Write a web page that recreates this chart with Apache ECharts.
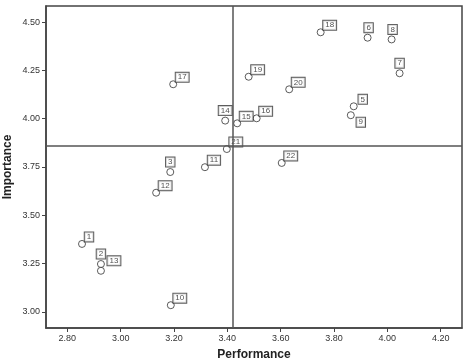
<!DOCTYPE html>
<html>
<head>
<meta charset="utf-8">
<script src="https://cdn.jsdelivr.net/npm/echarts@6/dist/echarts.min.js"></script>
<style>
  html, body { margin: 0; padding: 0; background: #fff; }
  #chart { width: 463px; height: 360px; }
</style>
</head>
<body>
<div id="chart"></div>
<script>
// item numbers and their scores
const itemIds = ['1','2','3','5','6','7','8','9','10','11','12','13','14','15','16','17','18','19','20','21','22'];
const performance = [2.855, 2.926, 3.186, 3.874, 3.926, 4.046, 4.016, 3.863, 3.188, 3.316, 3.133, 2.926, 3.392, 3.437, 3.510, 3.197, 3.750, 3.480, 3.632, 3.398, 3.604];
const importance  = [3.352, 3.248, 3.724, 4.064, 4.419, 4.235, 4.410, 4.018, 3.035, 3.749, 3.617, 3.213, 3.990, 3.976, 4.002, 4.178, 4.447, 4.217, 4.152, 3.843, 3.771];

// mean lines
const meanPerformance = 3.425;
const meanImportance = 3.864;

// tick labels
const xTicks = [2.8, 3.0, 3.2, 3.4, 3.6, 3.8, 4.0, 4.2];
const yTicks = [3.0, 3.25, 3.5, 3.75, 4.0, 4.25, 4.5];

// where each label box sits relative to its circle (default up-right)
const labelOffsets = {
  '2': [0, -10], '3': [0, -10], '6': [1, -10], '7': [0, -10], '8': [1, -10],
  '9': [10, 7], '13': [13, -10], '14': [0, -10], '1': [7, -7]
};

const chart = echarts.init(document.getElementById('chart'));

const points = itemIds.map((id, i) => ({
  value: [performance[i], importance[i]],
  name: id,
  label: { offset: labelOffsets[id] || [9, -7] }
}));

const axisText = { color: '#333', fontSize: 9, fontFamily: 'Liberation Sans' };

chart.setOption({
  backgroundColor: '#fff',
  animation: false,
  grid: {
    left: 46, right: 1, top: 6, bottom: 32,
    outerBoundsMode: 'none',
    containLabel: false,
    show: true, borderColor: '#444', borderWidth: 1.5
  },
  xAxis: {
    type: 'value',
    min: 2.72, max: 4.28,
    name: 'Performance',
    nameLocation: 'middle',
    nameGap: 21,
    nameMoveOverlap: false,
    nameTextStyle: { color: '#222', fontSize: 12, fontWeight: 'bold', fontFamily: 'Liberation Sans' },
    axisLine: { show: true, lineStyle: { color: '#444', width: 1.5 } },
    axisTick: { show: true, length: 4, customValues: xTicks, lineStyle: { color: '#444' } },
    axisLabel: Object.assign({ customValues: xTicks, margin: 6, formatter: v => v.toFixed(2) }, axisText),
    splitLine: { show: false }
  },
  yAxis: {
    type: 'value',
    min: 2.917, max: 4.583,
    name: 'Importance',
    nameLocation: 'middle',
    nameGap: 32,
    nameMoveOverlap: false,
    nameTextStyle: { color: '#222', fontSize: 12, fontWeight: 'bold', fontFamily: 'Liberation Sans' },
    axisLine: { show: true, lineStyle: { color: '#444', width: 1.5 } },
    axisTick: { show: true, length: 4, customValues: yTicks, lineStyle: { color: '#444' } },
    axisLabel: Object.assign({ customValues: yTicks, margin: 6, formatter: v => v.toFixed(2) }, axisText),
    splitLine: { show: false }
  },
  series: [{
    type: 'scatter',
    data: points,
    symbol: 'circle',
    symbolSize: 7,
    itemStyle: { color: '#fff', borderColor: '#333', borderWidth: 1 },
    label: {
      show: true,
      position: 'inside',
      formatter: p => p.name,
      color: '#222',
      fontSize: 8,
      fontFamily: 'Liberation Sans',
      backgroundColor: '#fff',
      borderColor: '#333',
      borderWidth: 1,
      padding: [1, 2, 0, 2]
    },
    markLine: {
      silent: true,
      symbol: 'none',
      label: { show: false },
      lineStyle: { color: '#555', width: 1.5, type: 'solid' },
      data: [{ xAxis: meanPerformance }, { yAxis: meanImportance }]
    }
  }]
});
</script>
</body>
</html>
